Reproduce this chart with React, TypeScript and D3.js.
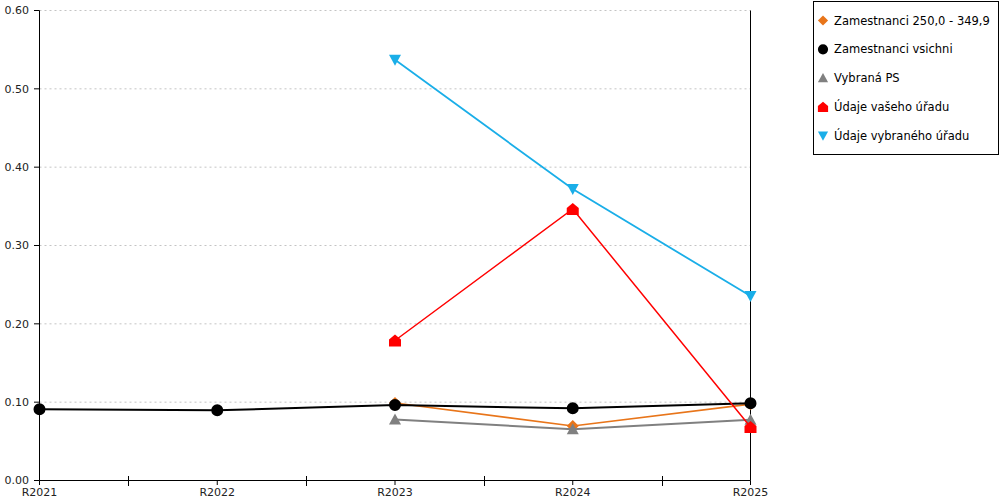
import React from 'react';
import * as d3 from 'd3';

const CATEGORIES = ['R2021', 'R2022', 'R2023', 'R2024', 'R2025'];
const Y_TICKS = [0, 0.1, 0.2, 0.3, 0.4, 0.5, 0.6];

const ORANGE = [null, null, 0.099, 0.0695, 0.0975];
const BLACK = [0.0909, 0.0896, 0.0964, 0.0921, 0.0985];
const GRAY = [null, null, 0.078, 0.0654, 0.0775];
const RED = [null, null, 0.1787, 0.3466, 0.0683];
const BLUE = [null, null, 0.537, 0.372, 0.2355];

type Shape = 'diamond' | 'circle' | 'triangle' | 'house' | 'down';

interface Series {
  name: string;
  values: (number | null)[];
  color: string;
  width: number;
  shape: Shape;
}

const SERIES: Series[] = [
  { name: 'Zamestnanci 250,0 - 349,9', values: ORANGE, color: '#e8751a', width: 1.6, shape: 'diamond' },
  { name: 'Zamestnanci vsichni', values: BLACK, color: '#000000', width: 2, shape: 'circle' },
  { name: 'Vybraná PS', values: GRAY, color: '#808080', width: 2, shape: 'triangle' },
  { name: 'Údaje vašeho úřadu', values: RED, color: '#ff0000', width: 1.5, shape: 'house' },
  { name: 'Údaje vybraného úřadu', values: BLUE, color: '#1aaee8', width: 1.8, shape: 'down' },
];

const FONT = '"DejaVu Sans", Verdana, sans-serif';

// marker paths centred on 0,0
const markerPath = (shape: Shape): string => {
  switch (shape) {
    case 'diamond':
      return 'M0,-6L6,0L0,6L-6,0Z';
    case 'triangle':
      return 'M0,-6L6,5L-6,5Z';
    case 'down':
      return 'M-6,-5L6,-5L0,6Z';
    case 'house':
      return 'M0,-6L6,-1L6,6L-6,6L-6,-1Z';
    default:
      return d3.symbol(d3.symbolCircle, 113)() || '';
  }
};

export default function App() {
  const x = d3.scalePoint<string>().domain(CATEGORIES).range([39.5, 750.5]);
  const y = d3.scaleLinear().domain([0, 0.6]).range([480.5, 10.5]);
  const step = x.step();
  const minorTicks = CATEGORIES.slice(1).map(c => (x(c) as number) - step / 2);

  const line = d3.line<number | null>()
    .defined(d => d !== null)
    .x((_, i) => x(CATEGORIES[i]) as number)
    .y(d => y(d as number));

  return (
    <svg width={1000} height={500} style={{ position: 'absolute', left: 0, top: 0, display: 'block', background: '#fff' }}>
      {/* grid */}
      {Y_TICKS.slice(1).map(t => (
        <line key={t} x1={39.5} x2={750.5} y1={y(t)} y2={y(t)} stroke="#c4c4c4" strokeWidth={1} strokeDasharray="2,3" />
      ))}

      {/* axes */}
      <line x1={39.5} x2={39.5} y1={10.5} y2={480.5} stroke="#000" />
      <line x1={750.5} x2={750.5} y1={10.5} y2={480.5} stroke="#000" />
      <line x1={39.5} x2={750.5} y1={480.5} y2={480.5} stroke="#000" />
      {Y_TICKS.map(t => (
        <g key={t}>
          <line x1={34} x2={39.5} y1={y(t)} y2={y(t)} stroke="#000" />
          <text x={29} y={y(t)} dy="0.35em" textAnchor="end" fontFamily={FONT} fontSize={11} fill="#222">
            {t.toFixed(2)}
          </text>
        </g>
      ))}
      {minorTicks.map(m => (
        <line key={m} x1={Math.round(m) + 0.5} x2={Math.round(m) + 0.5} y1={476} y2={486} stroke="#000" />
      ))}
      {CATEGORIES.map(c => (
        <g key={c}>
          <line x1={x(c)} x2={x(c)} y1={480.5} y2={485} stroke="#000" />
          <text x={x(c)} y={496} textAnchor="middle" fontFamily={FONT} fontSize={11} fill="#222">{c}</text>
        </g>
      ))}

      {/* series */}
      {SERIES.map(s => (
        <g key={s.name}>
          <path d={line(s.values) || ''} fill="none" stroke={s.color} strokeWidth={s.width} />
          {s.values.map((v, i) => v === null ? null : (
            <path key={i} d={markerPath(s.shape)} fill={s.color}
              transform={`translate(${x(CATEGORIES[i])},${y(v)})`} />
          ))}
        </g>
      ))}

      {/* legend */}
      <rect x={813.5} y={1.5} width={185} height={153} fill="#fff" stroke="#000" />
      {SERIES.map((s, i) => {
        const ly = 20.5 + i * 28.8;
        return (
          <g key={s.name} transform={`translate(823,${ly})`}>
            <path d={markerPath(s.shape)} fill={s.color} transform="scale(0.85)" />
            <text x={11} y={0} dy="0.35em" fontFamily={FONT} fontSize={11.5} fill="#000">{s.name}</text>
          </g>
        );
      })}
    </svg>
  );
}
